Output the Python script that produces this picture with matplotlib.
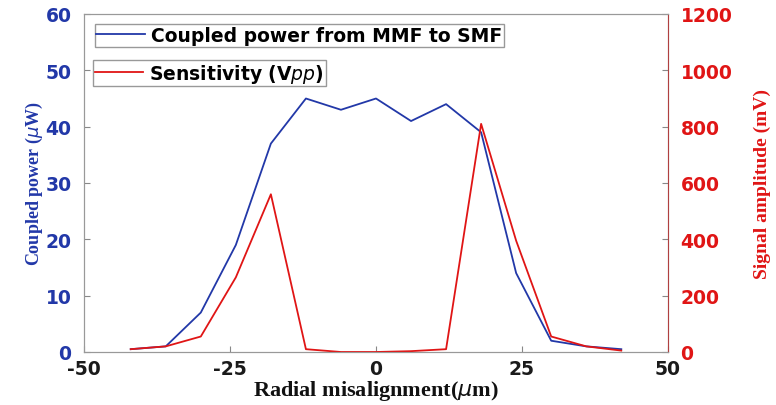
import numpy as np
import matplotlib
matplotlib.use("Agg")
import matplotlib.pyplot as plt
from matplotlib.font_manager import FontProperties

plt.rcParams['axes.unicode_minus'] = False

# radial offset between fibres (um)
offset = [-42, -36, -30, -24, -18, -12, -6, 0, 6, 12, 18, 24, 30, 36, 42]
# coupled power MMF -> SMF (uW)
power = [0.5, 1, 7, 19, 37, 45, 43, 45, 41, 44, 39, 14, 2, 1, 0.5]
# signal amplitude Vpp (mV)
signal = [10, 20, 55, 265, 560, 10, 0, 0, 3, 10, 810, 395, 55, 20, 5]

blue = '#2238a8'
red = '#e01515'
tick_fp = FontProperties(family='DejaVu Sans', weight='bold', size=13.5)
leg_fp = FontProperties(family='DejaVu Sans', weight='bold', size=13.5)

fig = plt.figure(figsize=(7.76, 4.06), dpi=100)
ax = fig.add_axes([84/776, 1-353/406, (668-84)/776, (353-15)/406])
ax2 = ax.twinx()

l1, = ax.plot(offset, power, color=blue, lw=1.3)
l2, = ax2.plot(offset, signal, color=red, lw=1.3)

ax.set_xlim(-50, 50)
ax.set_ylim(0, 60)
ax2.set_ylim(0, 1200)
ax.set_xticks([-50, -25, 0, 25, 50])
ax.set_yticks(range(0, 61, 10))
ax2.set_yticks(range(0, 1201, 200))

for a in (ax, ax2):
    a.tick_params(direction='in', length=4, color='#888888')
    for s in a.spines.values():
        s.set_color('#999999')
ax2.spines['right'].set_color('#b04040')

for t in ax.get_xticklabels():
    t.set_fontproperties(tick_fp)
    t.set_color('#1a1a1a')
for t in ax.get_yticklabels():
    t.set_fontproperties(tick_fp)
    t.set_color(blue)
for t in ax2.get_yticklabels():
    t.set_fontproperties(tick_fp)
    t.set_color(red)
ax.tick_params(axis='x', pad=5)
ax.tick_params(axis='y', pad=9)
ax2.tick_params(axis='y', pad=9)

ax.set_xlabel(r'Radial misalignment($\mu$m)', family='Liberation Serif', weight='bold',
              size=16, labelpad=0, color='#111111')
ax.set_ylabel(r'Coupled power ($\mu$W)', family='Liberation Serif', weight='bold',
              size=13, color=blue, labelpad=0)
ax2.set_ylabel(r'Signal amplitude (mV)', family='Liberation Serif', weight='bold',
               size=14, color=red, labelpad=15)

leg1 = ax2.legend([l1], ['Coupled power from MMF to SMF'], loc='upper left',
                  bbox_to_anchor=(0.018, 0.97), prop=leg_fp, fancybox=False,
                  edgecolor='#999999', framealpha=1, handlelength=2.6,
                  handletextpad=0.3, borderpad=0.1, borderaxespad=0)
ax2.add_artist(leg1)
leg2 = ax2.legend([l2], ['Sensitivity (V$\\mathbf{\\mathit{pp}}$)'], loc='upper left',
                  bbox_to_anchor=(0.015, 0.865), prop=leg_fp, fancybox=False,
                  edgecolor='#999999', framealpha=1, handlelength=2.6,
                  handletextpad=0.3, borderpad=0.1, borderaxespad=0)

fig.savefig('out.png', dpi=100)
